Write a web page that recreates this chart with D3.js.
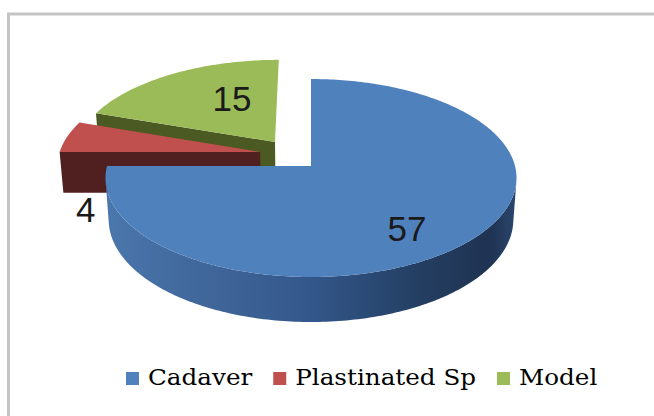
<!DOCTYPE html>
<html>
<head>
<meta charset="utf-8">
<script src="https://cdn.jsdelivr.net/npm/d3@7"></script>
<style>
  html, body { margin: 0; padding: 0; background: #ffffff; }
  svg { display: block; }
</style>
</head>
<body>
<svg id="chart" width="654" height="416"></svg>
<script>
// ---- data ----
const categories = ["Cadaver", "Plastinated Sp", "Model"];
const values = [57, 4, 15];
const labels = ["57", "4", "15"];

// ---- style ----
const topColors = ["#4f81bd", "#c0504d", "#9bbb59"];
const sideColors = ["#2f5280", "#501f1f", "#4a5a22"];
// explode offsets in pie-radius units (x right, z back)
const explode = [[0, 0], [-0.254, 0.146], [-0.182, 0.254]];
// label anchors: [angle deg, radius, height] relative to slice centre
const labelSpec = [[143.5, 0.735, 0], [259, 0.88, -0.2344], [334.4, 0.557, 0]];

const svg = d3.select("#chart");

// frame
svg.append("rect")
  .attr("x", 8.5).attr("y", 14).attr("width", 700).attr("height", 500)
  .attr("fill", "none").attr("stroke", "#c4c4c4").attr("stroke-width", 3);

// 3D projection
const cx = 311, cy = 166;
const D = 7.25, f = 1479, sinA = 0.478, cosA = 0.8783, TH = 0.2344;
function proj(X, Y, Z) {
  const depth = D + Z * cosA - Y * sinA;
  const v = Y * cosA + Z * sinA;
  return [cx + f * X / depth, cy - f * v / depth];
}

const pie = d3.pie().sort(null).value(d => d)(values);
const line = d3.line();

// blue side gradient
const defs = svg.append("defs");
const g0 = defs.append("linearGradient").attr("id", "sideBlue")
  .attr("gradientUnits", "userSpaceOnUse")
  .attr("x1", cx - 204).attr("x2", cx + 207).attr("y1", 0).attr("y2", 0);
[[0, "#4a77ad"], [0.2, "#42699d"], [0.5, "#33578a"], [0.75, "#243f63"], [0.93, "#1f3352"], [1, "#2b4770"]]
  .forEach(([o, c]) => g0.append("stop").attr("offset", o).attr("stop-color", c));

const drawOrder = [2, 1, 0];
const stepN = a => Math.max(8, Math.ceil(a / (Math.PI / 180)));
const C = [0, D * sinA, -D * cosA];

drawOrder.forEach(i => {
  const p = pie[i];
  const [ox, oz] = explode[i];
  const a0 = p.startAngle, a1 = p.endAngle;
  const n = stepN(a1 - a0);
  const angs = d3.range(n + 1).map(k => a0 + (a1 - a0) * k / n);
  const g = svg.append("g");
  const sideFill = i === 0 ? "url(#sideBlue)" : sideColors[i];

  // radial faces (skip near edge-on ones)
  const faces = [
    { a: a0, nrm: [-Math.cos(a0), Math.sin(a0)] },
    { a: a1, nrm: [Math.cos(a1), -Math.sin(a1)] }
  ];
  faces.forEach(fc => {
    const vis = fc.nrm[0] * (C[0] - ox) + fc.nrm[1] * (C[2] - oz);
    if (vis > 0.5) {
      const pts = [
        proj(ox, 0, oz),
        proj(ox + Math.sin(fc.a), 0, oz + Math.cos(fc.a)),
        proj(ox + Math.sin(fc.a), -TH, oz + Math.cos(fc.a)),
        proj(ox, -TH, oz)
      ];
      g.append("path").attr("d", line(pts) + "Z").attr("fill", sideColors[i]);
    }
  });

  // curved side, visible ranges
  const visible = t => (-ox * Math.sin(t) - oz * Math.cos(t) - 1 - D * cosA * Math.cos(t)) > 0;
  let runs = [], cur = null;
  angs.forEach(t => {
    if (visible(t)) { if (!cur) { cur = []; runs.push(cur); } cur.push(t); }
    else cur = null;
  });
  runs.forEach(r => {
    if (r.length < 2) return;
    const topPts = r.map(t => proj(ox + Math.sin(t), 0, oz + Math.cos(t)));
    const botPts = r.slice().reverse().map(t => proj(ox + Math.sin(t), -TH, oz + Math.cos(t)));
    g.append("path").attr("d", line(topPts.concat(botPts)) + "Z").attr("fill", sideFill);
  });

  // top face
  const topPts = [proj(ox, 0, oz)].concat(angs.map(t => proj(ox + Math.sin(t), 0, oz + Math.cos(t))));
  g.append("path").attr("d", line(topPts) + "Z").attr("fill", topColors[i]);
});

// data labels
pie.forEach((p, i) => {
  const [ox, oz] = explode[i];
  const [ad, r, y] = labelSpec[i];
  const t = ad * Math.PI / 180;
  const [x, yy] = proj(ox + r * Math.sin(t), y, oz + r * Math.cos(t));
  svg.append("text")
    .attr("x", x).attr("y", yy).attr("dy", "0.36em")
    .attr("text-anchor", "middle")
    .style("font-family", '"Liberation Sans", Arial, sans-serif')
    .style("font-size", "35px")
    .style("fill", "#1a1a1a")
    .text(labels[i]);
});

// legend
const legend = svg.append("g");
let lx = 126;
const baseY = 385;
const stretch = 1.12;
categories.forEach((c, i) => {
  legend.append("rect").attr("x", lx).attr("y", baseY - 13).attr("width", 13).attr("height", 13)
    .attr("fill", topColors[i]);
  const tg = legend.append("g").attr("transform", `translate(${lx + 22},${baseY}) scale(${stretch},1)`);
  const tx = tg.append("text")
    .attr("x", 0).attr("y", 0)
    .style("font-family", '"DejaVu Serif", serif')
    .style("font-size", "22px")
    .style("fill", "#000")
    .text(c);
  const w = tx.node().getComputedTextLength() * stretch;
  lx = lx + 22 + w + 21;
});
</script>
</body>
</html>
